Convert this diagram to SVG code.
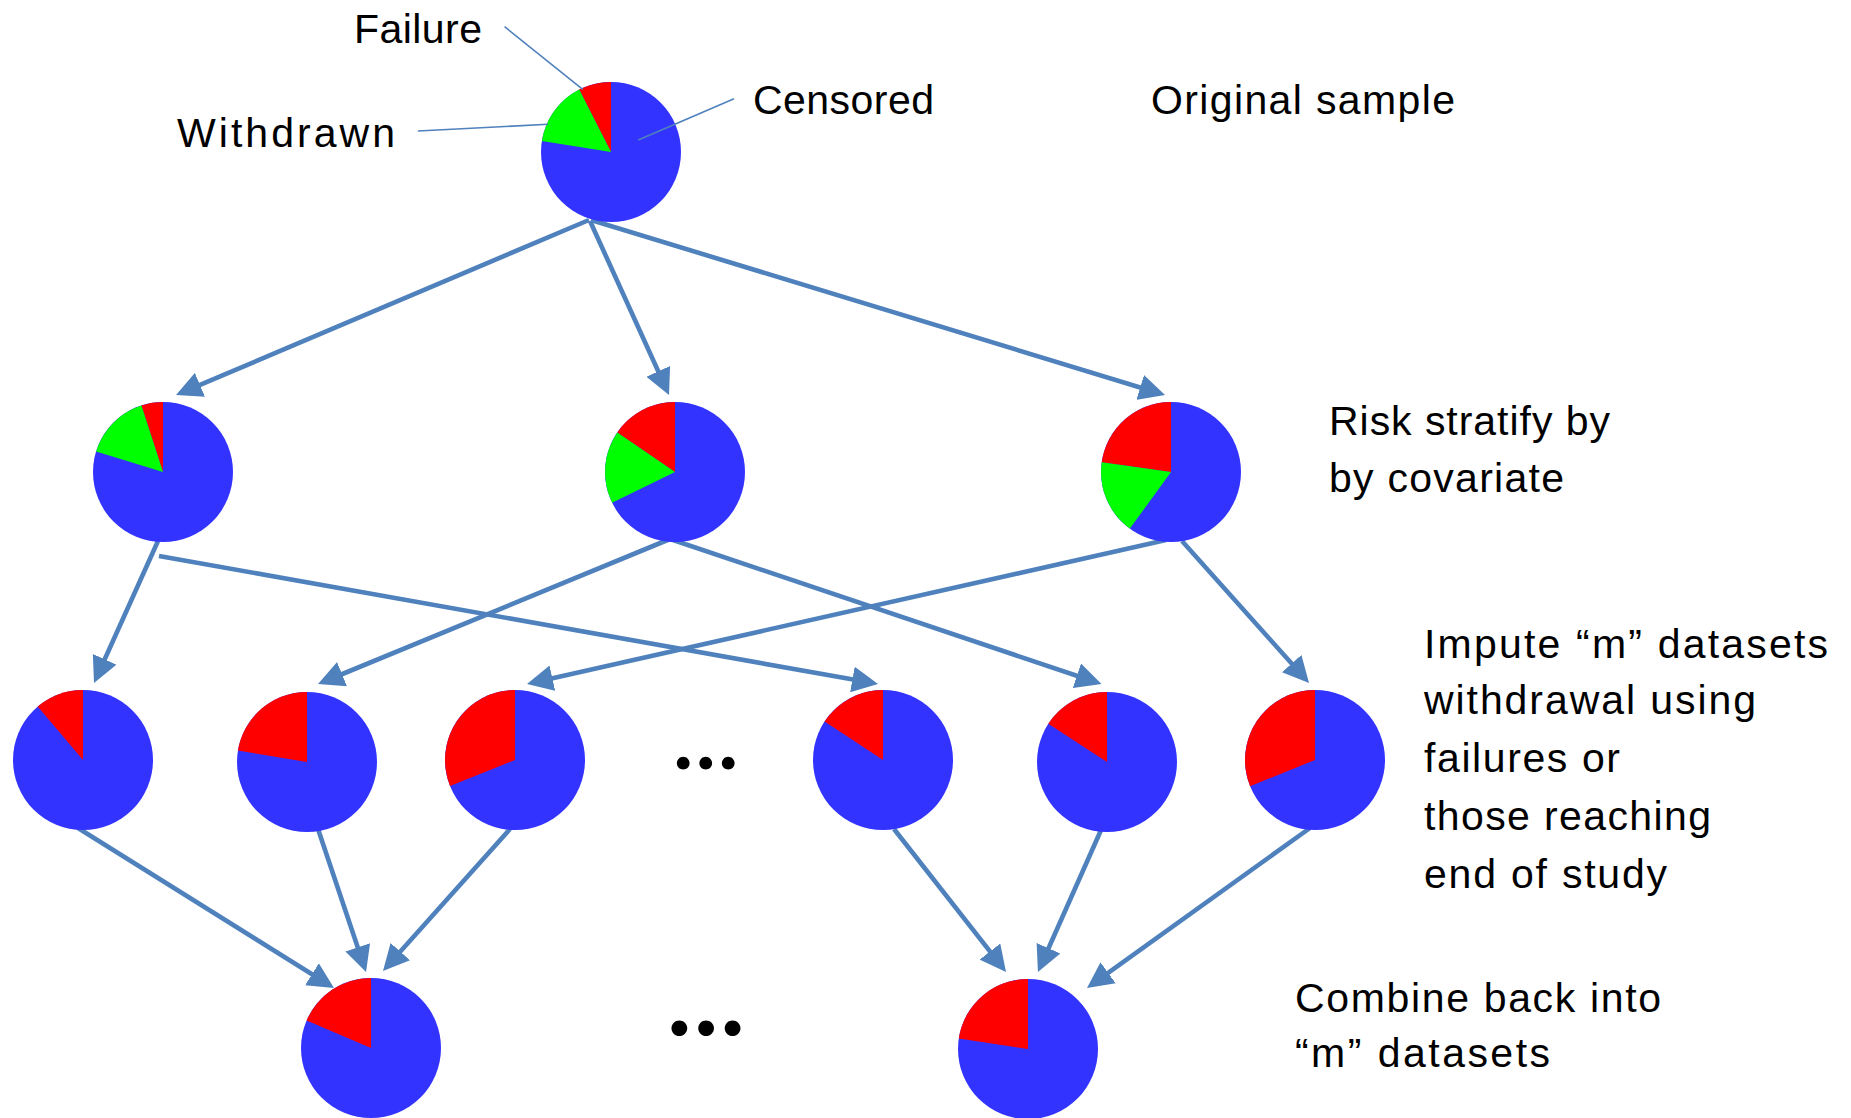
<svg xmlns="http://www.w3.org/2000/svg" width="1851" height="1118" viewBox="0 0 1851 1118">
  <style>
    .lbl { font-family: "Liberation Sans", Arial, sans-serif; font-size: 41px; fill: #000; }
    .dots { font-family: Lato, "Liberation Sans", sans-serif; font-weight: bold; fill: #000; text-anchor: middle; }
    .base { fill: #3333FF; }
    .fail { fill: #FF0000; }
    .wd { fill: #00FF00; }
    .conn { stroke: #4F81BD; stroke-width: 4.6; fill: none; marker-end: url(#arrow); }
    .lead { stroke: #4F81BD; stroke-width: 1.6; fill: none; }
  </style>
  <defs>
    <marker id="arrow" markerUnits="userSpaceOnUse" viewBox="0 0 26 26" markerWidth="26" markerHeight="26" refX="18" refY="13" orient="auto">
      <path d="M0,0 L26,13 L0,26 z" fill="#4F81BD"/>
    </marker>
  </defs>
  <rect width="1851" height="1118" fill="#FFFFFF"/>

  <!-- connectors -->
  <g id="connectors">
    <!-- original sample to strata -->
    <line class="conn" x1="589" y1="220" x2="183.4" y2="391.9"/>
    <line class="conn" x1="590" y1="221" x2="665.7" y2="387.7"/>
    <line class="conn" x1="591" y1="220" x2="1157.4" y2="392.7"/>
    <!-- strata to imputed datasets -->
    <line class="conn" x1="158" y1="541" x2="97.3" y2="675.7"/>
    <line class="conn" x1="159" y1="556" x2="870.1" y2="682.6"/>
    <line class="conn" x1="670" y1="539" x2="325.4" y2="681"/>
    <line class="conn" x1="670" y1="539" x2="1093.9" y2="681.5"/>
    <line class="conn" x1="1166" y1="540" x2="534.8" y2="682.2"/>
    <line class="conn" x1="1182" y1="541" x2="1303.7" y2="677"/>
    <!-- imputed datasets to combined -->
    <line class="conn" x1="78" y1="828" x2="327.2" y2="983.8"/>
    <line class="conn" x1="318" y1="829" x2="363.5" y2="964.4"/>
    <line class="conn" x1="510" y1="829" x2="388.3" y2="965"/>
    <line class="conn" x1="894" y1="829" x2="1001.1" y2="965.7"/>
    <line class="conn" x1="1101.5" y1="829" x2="1041.2" y2="964.7"/>
    <line class="conn" x1="1310" y1="828" x2="1093.5" y2="983.3"/>
  </g>

  <!-- original sample -->
  <g id="pie-original">
    <circle class="base" cx="611" cy="152" r="70"/>
    <path class="fail" d="M611,152 L611,82 A70,70 0 0 0 579.2,89.6 Z"/>
    <path class="wd" d="M611,152 L579.2,89.6 A70,70 0 0 0 541.9,141.1 Z"/>
  </g>

  <!-- strata -->
  <g id="pie-stratum-1">
    <circle class="base" cx="163" cy="472" r="70"/>
    <path class="fail" d="M163,472 L163,402 A70,70 0 0 0 141.4,405.4 Z"/>
    <path class="wd" d="M163,472 L141.4,405.4 A70,70 0 0 0 96.1,451.5 Z"/>
  </g>
  <g id="pie-stratum-2">
    <circle class="base" cx="675" cy="472" r="70"/>
    <path class="fail" d="M675,472 L675,402 A70,70 0 0 0 617.3,432.4 Z"/>
    <path class="wd" d="M675,472 L617.3,432.4 A70,70 0 0 0 612.1,502.7 Z"/>
  </g>
  <g id="pie-stratum-3">
    <circle class="base" cx="1171" cy="472" r="70"/>
    <path class="fail" d="M1171,472 L1171,402 A70,70 0 0 0 1101.7,462.3 Z"/>
    <path class="wd" d="M1171,472 L1101.7,462.3 A70,70 0 0 0 1129.9,528.6 Z"/>
  </g>

  <!-- imputed datasets -->
  <g id="pie-imputed-1">
    <circle class="base" cx="83" cy="760" r="70"/>
    <path class="fail" d="M83,760 L83,690 A70,70 0 0 0 37.7,706.6 Z"/>
  </g>
  <g id="pie-imputed-2">
    <circle class="base" cx="307" cy="762" r="70"/>
    <path class="fail" d="M307,762 L307,692 A70,70 0 0 0 237.9,750.6 Z"/>
  </g>
  <g id="pie-imputed-3">
    <circle class="base" cx="515" cy="760" r="70"/>
    <path class="fail" d="M515,760 L515,690 A70,70 0 0 0 450,785.9 Z"/>
  </g>
  <g id="pie-imputed-4">
    <circle class="base" cx="883" cy="760" r="70"/>
    <path class="fail" d="M883,760 L883,690 A70,70 0 0 0 824.6,721.5 Z"/>
  </g>
  <g id="pie-imputed-5">
    <circle class="base" cx="1107" cy="762" r="70"/>
    <path class="fail" d="M1107,762 L1107,692 A70,70 0 0 0 1048.3,723.8 Z"/>
  </g>
  <g id="pie-imputed-6">
    <circle class="base" cx="1315" cy="760" r="70"/>
    <path class="fail" d="M1315,760 L1315,690 A70,70 0 0 0 1250.1,786.2 Z"/>
  </g>
  <g id="ellipsis-imputed">
    <text class="dots" x="707" y="769" font-size="84" letter-spacing="2.5">...</text>
  </g>

  <!-- combined datasets -->
  <g id="pie-combined-1">
    <circle class="base" cx="371" cy="1048" r="70"/>
    <path class="fail" d="M371,1048 L371,978 A70,70 0 0 0 306.6,1020.6 Z"/>
  </g>
  <g id="pie-combined-2">
    <circle class="base" cx="1028" cy="1049" r="70"/>
    <path class="fail" d="M1028,1049 L1028,979 A70,70 0 0 0 958.8,1038.5 Z"/>
  </g>
  <g id="ellipsis-combined">
    <text class="dots" x="707" y="1035" font-size="104" letter-spacing="2">...</text>
  </g>

  <!-- legend labels with leader lines -->
  <g id="legend">
    <line class="lead" x1="504.6" y1="26.7" x2="582.7" y2="89.3"/>
    <line class="lead" x1="417.9" y1="131" x2="548" y2="124.3"/>
    <line class="lead" x1="734" y1="98.7" x2="638.3" y2="140"/>
    <text class="lbl" x="354" y="42.7" textLength="128">Failure</text>
    <text class="lbl" x="177" y="146.7" textLength="218">Withdrawn</text>
    <text class="lbl" x="753" y="114" textLength="181">Censored</text>
  </g>

  <!-- stage captions -->
  <g id="captions">
    <text class="lbl" x="1151" y="114" textLength="304">Original sample</text>
    <text class="lbl" x="1329" y="435" textLength="281">Risk stratify by</text>
    <text class="lbl" x="1329" y="491.7" textLength="235">by covariate</text>
    <text class="lbl" x="1424" y="657.7" textLength="404">Impute “m” datasets</text>
    <text class="lbl" x="1424" y="714" textLength="332">withdrawal using</text>
    <text class="lbl" x="1424" y="772" textLength="196">failures or</text>
    <text class="lbl" x="1424" y="830" textLength="287">those reaching</text>
    <text class="lbl" x="1424" y="888" textLength="243">end of study</text>
    <text class="lbl" x="1295" y="1011.7" textLength="366">Combine back into</text>
    <text class="lbl" x="1295" y="1067" textLength="255">“m” datasets</text>
  </g>
</svg>
